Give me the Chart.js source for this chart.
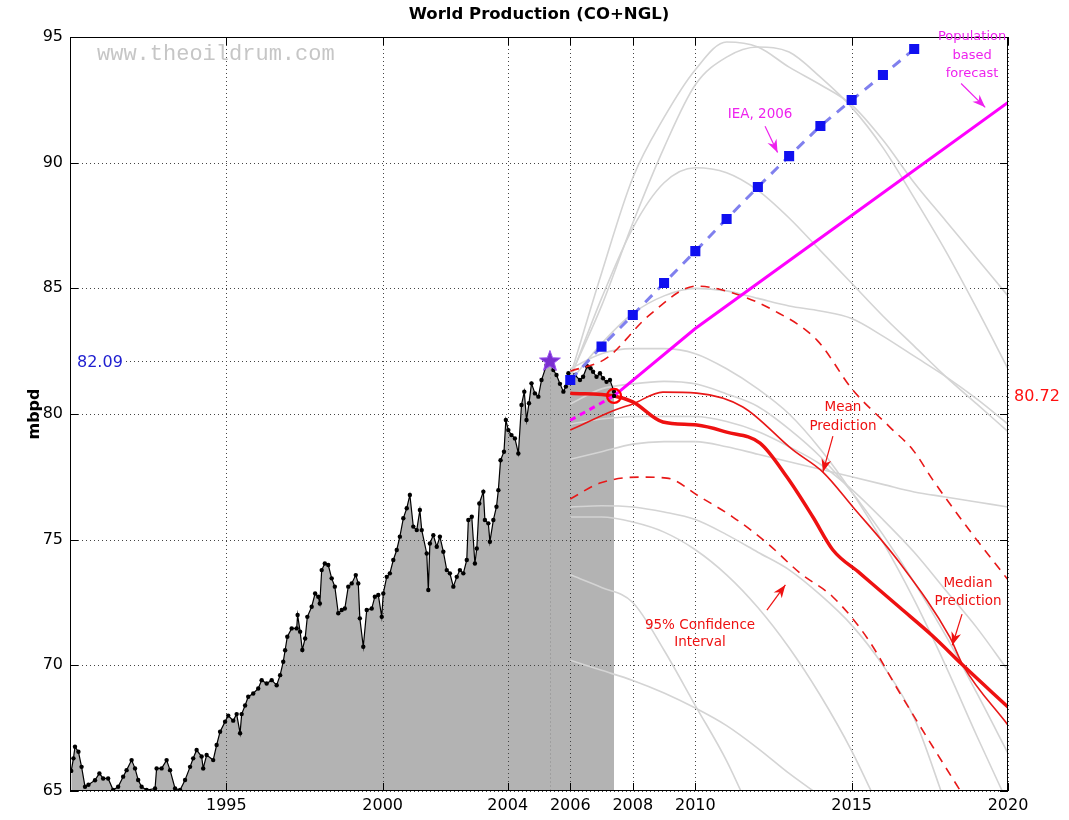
<!DOCTYPE html>
<html><head><meta charset="utf-8">
<script src="https://cdn.jsdelivr.net/npm/chart.js@4/dist/chart.umd.min.js"></script>
<style>html,body{margin:0;padding:0;background:#fff}#wrap{width:1069px;height:820px}</style>
</head><body><div id="wrap"><canvas id="c" width="1069" height="820"></canvas></div>
<script>
// ---- data ----
const xTicks = [1995, 2000, 2004, 2006, 2008, 2010, 2015, 2020];
const yTicks = [65, 70, 75, 80, 85, 90, 95];
const histYears = [1990.04,1990.11,1990.16,1990.27,1990.37,1990.48,1990.59,1990.80,1990.94,1991.06,1991.22,1991.38,1991.54,1991.70,1991.81,1991.97,1992.08,1992.18,1992.29,1992.45,1992.72,1992.77,1992.93,1993.09,1993.20,1993.36,1993.52,1993.68,1993.84,1993.94,1994.05,1994.21,1994.26,1994.37,1994.58,1994.69,1994.80,1994.96,1995.06,1995.22,1995.33,1995.44,1995.49,1995.60,1995.70,1995.86,1996.02,1996.13,1996.29,1996.45,1996.61,1996.72,1996.82,1996.88,1996.95,1997.09,1997.25,1997.28,1997.36,1997.43,1997.52,1997.59,1997.73,1997.84,1997.94,1997.99,1998.05,1998.15,1998.26,1998.37,1998.47,1998.58,1998.69,1998.79,1998.90,1999.01,1999.14,1999.22,1999.27,1999.38,1999.49,1999.65,1999.75,1999.86,1999.97,2000.02,2000.13,2000.23,2000.34,2000.45,2000.55,2000.66,2000.77,2000.87,2000.98,2001.09,2001.19,2001.25,2001.41,2001.46,2001.51,2001.62,2001.73,2001.83,2001.94,2002.05,2002.15,2002.26,2002.37,2002.47,2002.58,2002.69,2002.74,2002.85,2002.95,2003.01,2003.09,2003.22,2003.27,2003.38,2003.43,2003.54,2003.64,2003.70,2003.77,2003.88,2003.94,2004.02,2004.12,2004.23,2004.34,2004.44,2004.53,2004.60,2004.68,2004.76,2004.87,2004.98,2005.08,2005.24,2005.35,2005.46,2005.56,2005.67,2005.78,2005.86,2005.94,2006.04,2006.15,2006.31,2006.41,2006.54,2006.65,2006.73,2006.84,2006.95,2007.05,2007.16,2007.27,2007.40];
const histValues = [65.8,66.3,66.76,66.56,65.96,65.17,65.25,65.43,65.70,65.50,65.50,65.04,65.17,65.57,65.83,66.23,65.90,65.44,65.17,65.04,65.10,65.90,65.90,66.23,65.83,65.10,65.04,65.44,65.96,66.30,66.63,66.37,65.90,66.43,66.23,66.83,67.36,67.76,68.00,67.80,68.06,67.30,68.06,68.40,68.75,68.88,69.08,69.41,69.28,69.41,69.21,69.61,70.14,70.60,71.14,71.47,71.47,72.00,71.34,70.61,71.07,71.93,72.33,72.86,72.73,72.46,73.79,74.05,73.99,73.46,73.13,72.07,72.20,72.26,73.13,73.26,73.59,73.26,71.87,70.74,72.20,72.26,72.73,72.80,71.93,72.86,73.52,73.66,74.19,74.59,75.12,75.85,76.25,76.78,75.52,75.38,76.18,75.38,74.45,73.00,74.85,75.18,74.72,75.12,74.52,73.79,73.66,73.13,73.52,73.79,73.66,74.19,75.78,75.91,74.05,74.65,76.44,76.91,75.78,75.65,74.92,75.78,76.31,76.97,78.16,78.50,79.76,79.36,79.16,79.03,78.43,80.36,80.89,79.76,80.43,81.22,80.82,80.69,81.35,81.95,82.09,81.75,81.55,81.20,80.89,81.09,81.62,81.35,81.55,81.35,81.48,81.90,81.82,81.68,81.48,81.62,81.42,81.28,81.35,80.89];
const peakYear = 2005.35, peakValue = 82.09;
const lastYear = 2007.40, lastValue = 80.72;
const ieaYears  = [2006, 2007, 2008, 2009, 2010, 2011, 2012, 2013, 2014, 2015, 2016, 2017];
const ieaValues = [81.35, 82.68, 83.94, 85.21, 86.48, 87.76, 89.03, 90.26, 91.46, 92.49, 93.49, 94.52];
const popYears  = [2006, 2007.4, 2010, 2015, 2020];
const popValues = [79.75, 80.72, 83.4, 87.9, 92.4];
const medianYears  = [2006, 2007.4, 2008.0, 2008.96, 2010.05, 2011.0, 2012.07, 2012.93, 2013.76, 2014.4, 2015.26, 2016.54, 2017.6, 2018.56, 2020];
const medianValues = [80.83, 80.72, 80.48, 79.68, 79.56, 79.28, 78.84, 77.49, 75.9, 74.59, 73.67, 72.3, 71.16, 70.0, 68.34];
const meanYears  = [2006, 2007.43, 2008.0, 2008.96, 2010.05, 2011.52, 2013.12, 2014.08, 2015.04, 2016.54, 2018.14, 2018.56, 2020];
const meanValues = [79.36, 80.16, 80.4, 80.87, 80.83, 80.28, 78.57, 77.69, 76.3, 74.07, 71.12, 70.0, 67.62];
const ciUpYears  = [2006, 2007.17, 2008.5, 2010.05, 2011.2, 2012.48, 2013.89, 2015.04, 2016.22, 2016.96, 2017.6, 2018.69, 2020];
const ciUpValues = [81.7, 82.23, 83.9, 85.09, 84.81, 84.14, 82.94, 80.95, 79.48, 78.57, 77.37, 75.5, 73.4];
const ciLoYears  = [2006, 2006.95, 2008.23, 2009.09, 2010.15, 2011.2, 2012.29, 2013.35, 2014.4, 2015.49, 2016.54, 2017.6, 2018.46];
const ciLoValues = [76.62, 77.25, 77.49, 77.45, 76.7, 75.9, 74.87, 73.67, 72.72, 71.1, 68.9, 66.75, 65.04];
// background model runs (light grey), one value per year 2006..2020
const grayYears = [2006,2007,2008,2009,2010,2011,2012,2013,2014,2015,2016,2017,2018,2019,2020];
const gray1  = [81.5,85.6,89.4,91.8,93.7,94.8,94.6,93.8,93.1,92.3,90.9,89.2,87.7,86.2,84.7];
const gray2  = [81.5,84.3,87.6,90.6,93.1,94.2,94.6,94.4,93.4,92.2,90.6,88.6,86.5,84.2,81.8];
const gray3  = [81.4,84.6,87.4,89.2,89.8,89.6,88.9,87.8,86.5,85.2,83.9,82.7,81.5,80.4,79.3];
const gray4  = [81.3,82.8,84.0,84.7,85.0,84.9,84.6,84.3,84.1,83.8,83.1,82.3,81.5,80.6,79.6];
const gray5  = [81.8,82.4,82.6,82.6,82.4,81.8,81.0,80.0,78.6,76.9,74.9,72.6,70.0,67.2,64.5];
const gray6  = [80.4,81.0,81.2,81.3,81.2,80.8,80.3,79.4,78.3,76.9,75.2,73.3,71.2,68.9,66.5];
const gray7  = [79.6,79.8,79.9,79.9,79.9,79.7,79.3,78.7,78.0,77.0,75.8,74.5,73.0,71.5,69.8];
const gray8  = [78.2,78.5,78.8,78.9,78.9,78.7,78.4,78.1,77.8,77.5,77.2,76.9,76.7,76.5,76.3];
const gray9  = [76.3,76.35,76.3,76.1,75.8,75.2,74.5,73.8,72.8,71.6,70.0,67.9,64.5,null,null];
const gray10 = [75.9,75.9,75.7,75.3,74.6,73.6,72.3,70.7,68.8,66.6,64.0,null,null,null,null];
const gray11 = [73.6,73.1,72.5,70.6,68.4,66.2,63.5,null,null,null,null,null,null,null,null];
const gray12 = [70.2,69.8,69.4,68.9,68.3,67.6,66.7,65.7,64.8,null,null,null,null,null,null];
const grayRuns = [gray1,gray2,gray3,gray4,gray5,gray6,gray7,gray8,gray9,gray10,gray11,gray12];

// ---- build ----
const pts = (xs, ys) => xs.map((x, i) => ({x, y: ys[i]}));
const FONT = "'DejaVu Sans', 'Liberation Sans', Arial, sans-serif";
const datasets = [];
// order: lower number = drawn on top
datasets.push({label:'fill', data: pts(histYears, histValues), fill:'start', backgroundColor:'#b3b3b3', borderWidth:0, pointRadius:0, order:100});
grayRuns.forEach((g, i) => datasets.push({label:'run'+i, data: pts(grayYears, g), borderColor:'#d4d4d4', borderWidth:1.6, pointRadius:0, cubicInterpolationMode:'monotone', fill:false, spanGaps:false, order:90}));
datasets.push({label:'hist', data: pts(histYears, histValues), borderColor:'#000', borderWidth:1.2, pointRadius:2.2, pointBackgroundColor:'#000', pointBorderColor:'#000', pointBorderWidth:0, fill:false, order:50});
datasets.push({label:'ciUp', data: pts(ciUpYears, ciUpValues), borderColor:'#e81818', borderWidth:1.6, borderDash:[9,7], pointRadius:0, cubicInterpolationMode:'monotone', fill:false, order:40});
datasets.push({label:'ciLo', data: pts(ciLoYears, ciLoValues), borderColor:'#e81818', borderWidth:1.6, borderDash:[9,7], pointRadius:0, cubicInterpolationMode:'monotone', fill:false, order:40});
datasets.push({label:'mean', data: pts(meanYears, meanValues), borderColor:'#e81818', borderWidth:1.6, pointRadius:0, cubicInterpolationMode:'monotone', fill:false, order:35});
datasets.push({label:'median', data: pts(medianYears, medianValues), borderColor:'#ee1111', borderWidth:3.5, pointRadius:0, cubicInterpolationMode:'monotone', fill:false, order:34});
datasets.push({label:'pop', data: pts(popYears, popValues), borderColor:'#ff00ff', borderWidth:3, pointRadius:0, fill:false, order:30,
  segment:{borderDash: ctx => ctx.p0.parsed.x < 2007 ? [6,5] : undefined}});
datasets.push({label:'iea', data: pts(ieaYears, ieaValues), borderColor:'#8080ee', borderWidth:3, borderDash:[10,8], pointRadius:5, pointStyle:'rect', pointBackgroundColor:'#1010f0', pointBorderColor:'#1010f0', fill:false, order:20});

function arrow(ctx, x1, y1, x2, y2, color) {
  ctx.save(); ctx.strokeStyle = color; ctx.fillStyle = color; ctx.lineWidth = 1.2;
  ctx.beginPath(); ctx.moveTo(x1, y1); ctx.lineTo(x2, y2); ctx.stroke();
  const a = Math.atan2(y2 - y1, x2 - x1), L = 13, W = 5;
  ctx.beginPath(); ctx.moveTo(x2, y2);
  ctx.lineTo(x2 - L*Math.cos(a) + W*Math.sin(a), y2 - L*Math.sin(a) - W*Math.cos(a));
  ctx.lineTo(x2 - L*0.7*Math.cos(a), y2 - L*0.7*Math.sin(a));
  ctx.lineTo(x2 - L*Math.cos(a) - W*Math.sin(a), y2 - L*Math.sin(a) + W*Math.cos(a));
  ctx.closePath(); ctx.fill(); ctx.restore();
}

const deco = {
  id:'deco',
  afterDatasetDraw(chart, args) {
    if (chart.data.datasets[args.index].label === 'fill') {
      const {ctx, chartArea:a, scales:{x, y}} = chart;
      ctx.save(); ctx.strokeStyle = '#444'; ctx.lineWidth = 1; ctx.setLineDash([1,3]);
      xTicks.forEach(v => { const p = Math.round(x.getPixelForValue(v)) + 0.5; ctx.beginPath(); ctx.moveTo(p, a.top); ctx.lineTo(p, a.bottom); ctx.stroke(); });
      yTicks.forEach(v => { const p = Math.round(y.getPixelForValue(v)) + 0.5; ctx.beginPath(); ctx.moveTo(a.left, p); ctx.lineTo(a.right, p); ctx.stroke(); });
      const py = Math.round(y.getPixelForValue(peakValue)) + 0.5;
      ctx.beginPath(); ctx.moveTo(a.left + 56, py); ctx.lineTo(x.getPixelForValue(peakYear), py); ctx.stroke();
      const ly = Math.round(y.getPixelForValue(lastValue)) + 0.5;
      ctx.beginPath(); ctx.moveTo(x.getPixelForValue(lastYear), ly); ctx.lineTo(a.right, ly); ctx.stroke();
      ctx.strokeStyle = '#8a8a8a';
      const px = Math.round(x.getPixelForValue(peakYear)) + 0.5;
      ctx.beginPath(); ctx.moveTo(px, py); ctx.lineTo(px, a.bottom); ctx.stroke();
      ctx.restore();
    }
  },
  afterDatasetsDraw(chart) {
    const {ctx, chartArea:a, scales:{x, y}} = chart;
    const X = v => x.getPixelForValue(v), Y = v => y.getPixelForValue(v);
    ctx.save(); ctx.strokeStyle = '#000'; ctx.lineWidth = 1; ctx.setLineDash([]);
    ctx.strokeRect(a.left + 0.5, a.top + 0.5, a.right - a.left - 1, a.bottom - a.top - 1);
    ctx.beginPath();
    xTicks.forEach(v => { const p = Math.round(X(v)) + 0.5; ctx.moveTo(p, a.bottom); ctx.lineTo(p, a.bottom - 8); ctx.moveTo(p, a.top); ctx.lineTo(p, a.top + 8); });
    yTicks.forEach(v => { const p = Math.round(Y(v)) + 0.5; ctx.moveTo(a.left, p); ctx.lineTo(a.left + 8, p); ctx.moveTo(a.right, p); ctx.lineTo(a.right - 8, p); });
    ctx.stroke();
    // star at peak
    const sx = X(peakYear), sy = Y(peakValue);
    ctx.beginPath();
    for (let i = 0; i < 10; i++) { const r = i % 2 ? 4.5 : 11, t = -Math.PI/2 + i*Math.PI/5; ctx.lineTo(sx + r*Math.cos(t), sy + r*Math.sin(t)); }
    ctx.closePath(); ctx.fillStyle = '#7a2fd0'; ctx.fill(); ctx.strokeStyle = '#9a50f0'; ctx.stroke();
    // circle at last value
    const cx = X(lastYear), cy = Y(lastValue);
    ctx.beginPath(); ctx.arc(cx, cy, 7, 0, 2*Math.PI); ctx.strokeStyle = '#f00'; ctx.lineWidth = 2.2; ctx.stroke();
    ctx.beginPath(); ctx.arc(cx, cy, 2.2, 0, 2*Math.PI); ctx.fillStyle = '#000'; ctx.fill();
    // texts
    ctx.textBaseline = 'middle';
    ctx.font = "22px 'Liberation Mono', 'DejaVu Sans Mono', monospace"; ctx.fillStyle = '#c6c6c6'; ctx.textAlign = 'left';
    ctx.fillText('www.theoildrum.com', a.left + 27, 54);
    ctx.font = "16px " + FONT; ctx.fillStyle = '#2020d0'; ctx.fillText(peakValue.toFixed(2), a.left + 7, Y(peakValue) + 1);
    ctx.fillStyle = '#ff1010'; ctx.fillText(lastValue.toFixed(2), a.right + 6, Y(lastValue) + 1);
    ctx.textAlign = 'center'; ctx.font = "13.5px " + FONT;
    ctx.fillStyle = '#ee22ee';
    ctx.fillText('IEA, 2006', X(2012.07), Y(91.9));
    arrow(ctx, X(2012.23), Y(91.45), X(2012.63), Y(90.4), '#ee22ee');
    ctx.font = "13px " + FONT;
    ctx.fillText('Population', X(2018.85), Y(95.0));
    ctx.fillText('based', X(2018.85), Y(94.25));
    ctx.fillText('forecast', X(2018.85), Y(93.55));
    arrow(ctx, X(2018.5), Y(93.15), X(2019.27), Y(92.2), '#ee22ee');
    ctx.font = "13.5px " + FONT;
    ctx.fillStyle = '#ee1111';
    ctx.fillText('Mean', X(2014.72), Y(80.24));
    ctx.fillText('Prediction', X(2014.72), Y(79.52));
    arrow(ctx, X(2014.4), Y(79.12), X(2014.08), Y(77.69), '#ee1111');
    ctx.fillText('Median', X(2018.72), Y(73.27));
    ctx.fillText('Prediction', X(2018.72), Y(72.52));
    arrow(ctx, X(2018.53), Y(72.04), X(2018.22), Y(70.8), '#ee1111');
    ctx.fillText('95% Confidence', X(2010.15), Y(71.6));
    ctx.fillText('Interval', X(2010.15), Y(70.89));
    arrow(ctx, X(2012.29), Y(72.2), X(2012.88), Y(73.2), '#ee1111');
    // title and axis title
    ctx.fillStyle = '#000'; ctx.font = "bold 16.5px " + FONT;
    ctx.fillText('World Production (CO+NGL)', (a.left + a.right)/2, 15);
    ctx.save(); ctx.translate(35, (a.top + a.bottom)/2); ctx.rotate(-Math.PI/2);
    ctx.font = "bold 16px " + FONT; ctx.fillText('mbpd', 0, 0); ctx.restore();
    ctx.restore();
  }
};

new Chart(document.getElementById('c'), {
  type:'line',
  data:{datasets},
  options:{
    responsive:false, animation:false, devicePixelRatio:1,
    layout:{padding:{top:37, right:61, left:0, bottom:0}},
    plugins:{legend:{display:false}, tooltip:{enabled:false}, title:{display:false}},
    scales:{
      x:{type:'linear', min:1990, max:2020,
         afterBuildTicks: s => { s.ticks = xTicks.map(v => ({value:v})); },
         afterFit: s => { s.height = 29; },
         grid:{display:false, drawTicks:false}, border:{display:false},
         ticks:{font:{size:16, family:FONT}, color:'#000', padding:5, maxRotation:0, autoSkip:false, callback: v => String(v)}},
      y:{type:'linear', min:65, max:95,
         afterBuildTicks: s => { s.ticks = yTicks.map(v => ({value:v})); },
         afterFit: s => { s.width = 70; },
         grid:{display:false, drawTicks:false}, border:{display:false},
         ticks:{font:{size:16, family:FONT}, color:'#000', padding:7, callback: v => String(v)}}
    }
  },
  plugins:[deco]
});
</script></body></html>
